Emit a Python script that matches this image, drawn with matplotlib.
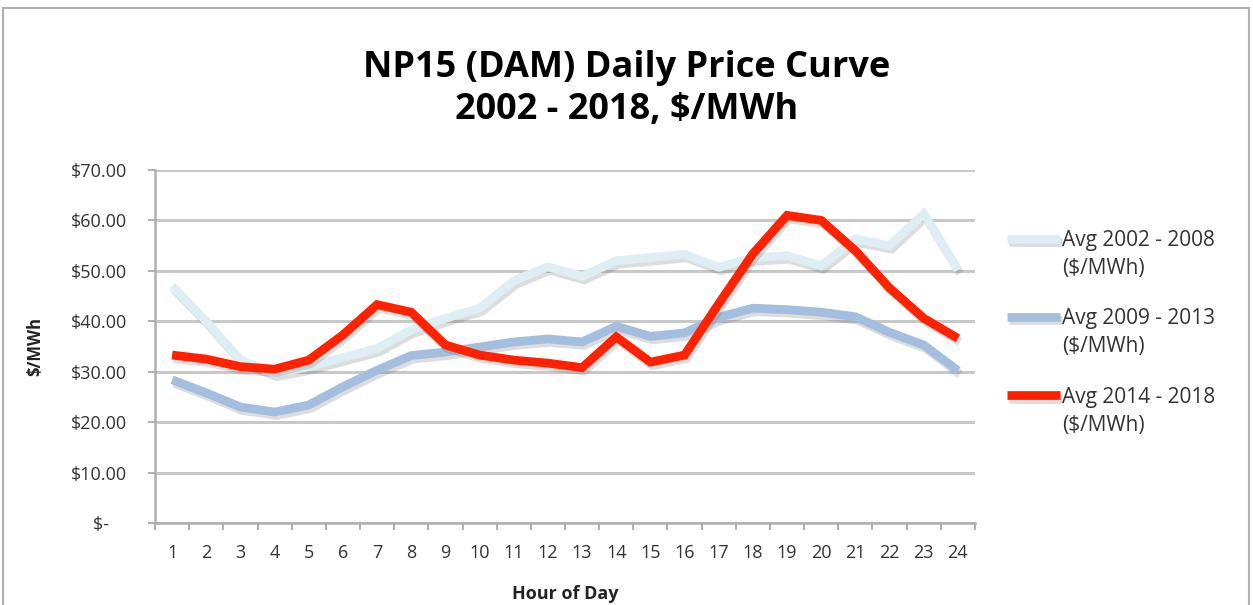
import matplotlib
matplotlib.use("Agg")
import matplotlib.pyplot as plt
import matplotlib.patheffects as pe
from matplotlib.patches import Rectangle
import numpy as np

plt.rcParams['font.family'] = ['Open Sans', 'DejaVu Sans']

hours = list(range(1, 25))
avg_2002_2008 = [47.0, 40.0, 32.3, 29.7, 31.0, 32.8, 34.6, 38.3, 40.6, 42.6, 48.0, 50.8,
                 48.9, 52.0, 52.6, 53.3, 50.7, 52.6, 53.0, 51.0, 56.3, 55.0, 61.3, 50.2]
avg_2009_2013 = [28.4, 25.8, 23.0, 22.0, 23.4, 27.0, 30.3, 33.2, 33.9, 34.9, 35.9, 36.5,
                 35.9, 39.0, 37.0, 37.7, 40.8, 42.6, 42.3, 41.8, 40.9, 37.8, 35.3, 30.2]
avg_2014_2018 = [33.3, 32.5, 31.0, 30.5, 32.3, 37.3, 43.3, 41.8, 35.3, 33.3, 32.3, 31.7,
                 30.8, 36.9, 31.9, 33.3, 43.5, 53.4, 61.0, 60.0, 54.0, 46.6, 40.6, 36.6]
series_labels = ["Avg 2002 - 2008", "Avg 2009 - 2013", "Avg 2014 - 2018"]
unit_label = "($/MWh)"
y_ticks = [0, 10, 20, 30, 40, 50, 60, 70]
y_tick_labels = ["$-    ", "$10.00", "$20.00", "$30.00", "$40.00", "$50.00", "$60.00", "$70.00"]

W, H = 1253, 605
fig = plt.figure(figsize=(W / 100, H / 100), dpi=100)
ax = fig.add_axes([155 / W, 82 / H, 820 / W, 353 / H])

shadow = [pe.SimpleLineShadow(offset=(1.5, -2.5), shadow_color='#666666', alpha=0.22), pe.Normal()]
colors = ['#DDEEF4', '#A3BEDF', '#FF2200']
for vals, lab, c in zip([avg_2002_2008, avg_2009_2013, avg_2014_2018], series_labels, colors):
    ax.plot(hours, vals, color=c, lw=6.3, label=lab, solid_joinstyle='miter',
            solid_capstyle='butt', path_effects=shadow, zorder=3)

ax.set_xlim(0.5, 24.5)
ax.set_ylim(0, 70)
ax.set_yticks(y_ticks)
ax.set_yticklabels(y_tick_labels, fontsize=13, color='#333333')
ax.set_xticks(hours)
ax.set_xticklabels([str(h) for h in hours], fontsize=13, color='#333333')
ax.set_xticks(np.arange(0.5, 25, 1), minor=True)
ax.tick_params(axis='x', which='major', length=0, pad=15)
ax.tick_params(axis='x', which='minor', length=5, width=1.5, color='#B0B0B0', direction='out')
ax.tick_params(axis='y', length=5, width=1.5, color='#B0B0B0', pad=15)

ax.grid(axis='y', color='#C8C8C8', lw=2.2, zorder=0)
for s in ['top', 'right']:
    ax.spines[s].set_visible(False)
for s in ['left', 'bottom']:
    ax.spines[s].set_color('#B0B0B0')
    ax.spines[s].set_linewidth(1.8)

ax.set_xlabel("Hour of Day", fontsize=13, fontweight='bold', labelpad=17, color='#222222')
ax.set_ylabel("$/MWh", fontsize=12, fontweight='bold', labelpad=19, color='#222222')

fig.text(0.5, 1 - 89 / H, "NP15 (DAM) Daily Price Curve\n2002 - 2018, $/MWh",
         ha='center', va='center', fontsize=26, fontweight='bold', linespacing=1.25)

leg = ax.legend(loc='upper left', bbox_to_anchor=(1007 / W, 1 - 230 / H), bbox_transform=fig.transFigure,
                frameon=False, fontsize=15, handlelength=2.55, handletextpad=0.1, labelspacing=2.75,
                borderpad=0, borderaxespad=0)
for t in leg.get_texts():
    t.set_color('#333333')
    ax.annotate(unit_label, xy=(0, 0), xycoords=t, xytext=(0, -5), textcoords='offset points',
                ha='left', va='top', fontsize=15, color='#333333', annotation_clip=False, zorder=10)

fig.patches.append(Rectangle((3 / W, -0.02), 1246 / W, 1.02 - 8 / H,
                             transform=fig.transFigure, fill=False, edgecolor='#B0B0B0', lw=1.5))

fig.savefig("out.png", dpi=100)
